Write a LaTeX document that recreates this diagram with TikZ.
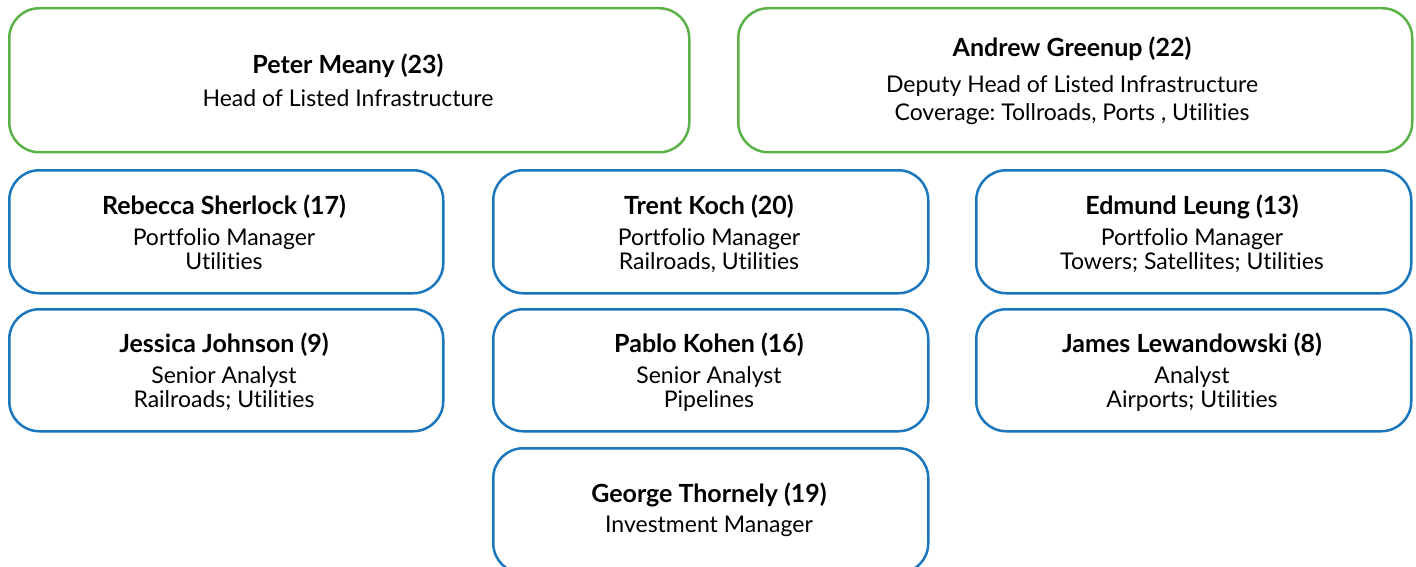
\documentclass[tikz,border=0pt]{standalone}
\usepackage{fontspec}
\setmainfont[Ligatures=NoCommon]{Lato}
\frenchspacing
\definecolor{hgreen}{HTML}{5BB347}
\definecolor{hblue}{HTML}{1A76BD}
\begin{document}
\begin{tikzpicture}[x=1pt,y=-1pt,
  card/.style={draw, line width=2.5pt, rounded corners=30pt, fill=white, inner sep=0pt, anchor=north west},
  greencard/.style={card, draw=hgreen},
  bluecard/.style={card, draw=hblue},
  txt/.style={align=center, font=\fontsize{23}{24}\selectfont, text=black},
  nametxt/.style={align=center, font=\fontsize{25}{26}\selectfont\bfseries, text=black}
]
\useasboundingbox (0,0) rectangle (1416,567);
\clip (0,0) rectangle (1416,567);
\fill[white] (0,0) rectangle (1416,567);
% boxes
\node[greencard, minimum width=680pt, minimum height=144pt] (peter) at (8,7) {};
\node[greencard, minimum width=674pt, minimum height=144pt] (andrew) at (737,7) {};
\node[bluecard, minimum width=434pt, minimum height=123pt] (rebecca) at (8,169) {};
\node[bluecard, minimum width=435pt, minimum height=123pt] (trent) at (492,169) {};
\node[bluecard, minimum width=435pt, minimum height=123pt] (edmund) at (975,169) {};
\node[bluecard, minimum width=434pt, minimum height=122pt] (jessica) at (8,308) {};
\node[bluecard, minimum width=435pt, minimum height=122pt] (pablo) at (492,308) {};
\node[bluecard, minimum width=435pt, minimum height=122pt] (james) at (975,308) {};
\node[bluecard, minimum width=435pt, minimum height=125pt] (george) at (492,447) {};
% texts
\node[nametxt] (peterN) at (348,66) {Peter Meany (23)};
\node[txt] (peterT) at (348,98) {Head of Listed Infrastructure};
\node[nametxt] (andrewN) at (1072,49) {Andrew Greenup (22)};
\node[txt] (andrewT) at (1072,100) {Deputy Head of Listed Infrastructure\\[4pt]Coverage: Tollroads, Ports , Utilities};
\node[nametxt] (rebeccaN) at (224,207) {Rebecca Sherlock (17)};
\node[txt] (rebeccaT) at (224,249) {Portfolio Manager\\Utilities};
\node[nametxt] (trentN) at (709,207) {Trent Koch (20)};
\node[txt] (trentT) at (709,251) {Portfolio Manager\\Railroads, Utilities};
\node[nametxt] (edmundN) at (1192,207) {Edmund Leung (13)};
\node[txt] (edmundT) at (1192,251) {Portfolio Manager\\Towers; Satellites; Utilities};
\node[nametxt] (jessicaN) at (224,345) {Jessica Johnson (9)};
\node[txt] (jessicaT) at (224,389) {Senior Analyst\\Railroads; Utilities};
\node[nametxt] (pabloN) at (709,345) {Pablo Kohen (16)};
\node[txt] (pabloT) at (709,389) {Senior Analyst\\Pipelines};
\node[nametxt] (jamesN) at (1192,345) {James Lewandowski (8)};
\node[txt] (jamesT) at (1192,389) {Analyst\\Airports; Utilities};
\node[nametxt] (georgeN) at (709,495) {George Thornely (19)};
\node[txt] (georgeT) at (709,526) {Investment Manager};
\end{tikzpicture}
\end{document}
